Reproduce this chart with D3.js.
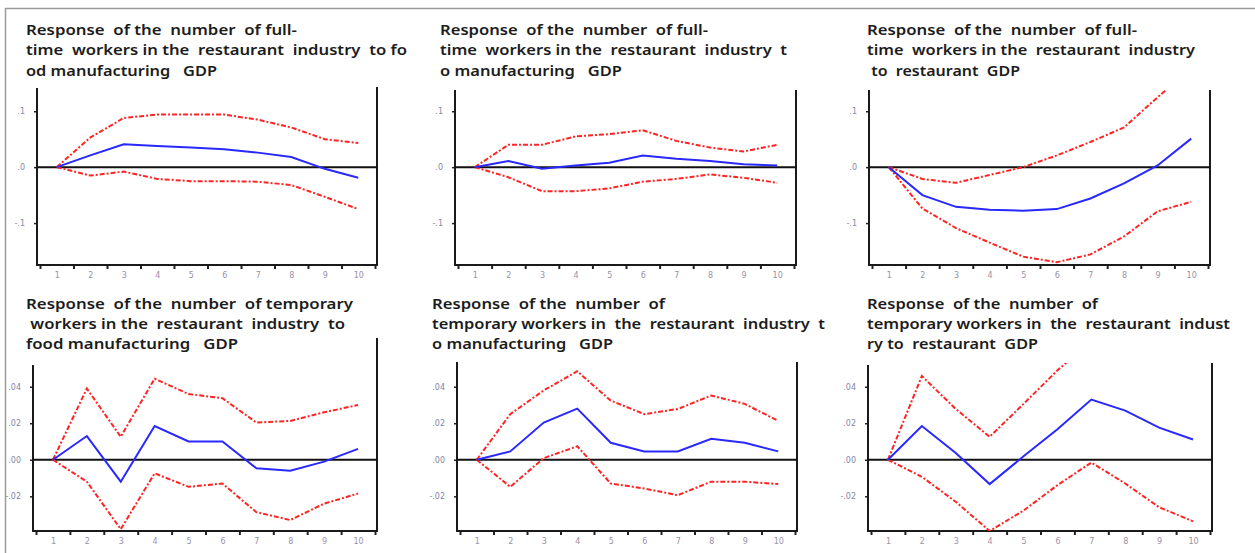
<!DOCTYPE html>
<html>
<head>
<meta charset="utf-8">
<script src="https://cdn.jsdelivr.net/npm/d3@7"></script>
<style>
  body { margin: 0; background: #fff; }
  svg { display: block; }
</style>
</head>
<body>
<svg></svg>
<script>
const width = 1255;
const height = 553;

const periods = d3.range(1, 11);
const xTickLabels = periods.map(String);
const topYTicks = [0.1, 0, -0.1];
const topYLabels = ['.1', '.0', '-.1'];
const bottomYTicks = [0.04, 0.02, 0, -0.02];
const bottomYLabels = ['.04', '.02', '.00', '-.02'];

// full-time workers, response to food manufacturing GDP
const fullFoodResp  = [0, 0.021, 0.041, 0.038, 0.035, 0.032, 0.026, 0.018, -0.003, -0.019];
const fullFoodUpper = [0, 0.053, 0.088, 0.094, 0.094, 0.094, 0.085, 0.071, 0.050, 0.043];
const fullFoodLower = [0, -0.015, -0.008, -0.021, -0.025, -0.025, -0.026, -0.032, -0.053, -0.075];
// full-time workers, response to manufacturing GDP
const fullMfgResp  = [0, 0.011, -0.003, 0.003, 0.008, 0.021, 0.015, 0.011, 0.005, 0.003];
const fullMfgUpper = [0, 0.040, 0.040, 0.055, 0.059, 0.066, 0.047, 0.035, 0.028, 0.040];
const fullMfgLower = [0, -0.018, -0.043, -0.043, -0.038, -0.026, -0.021, -0.013, -0.019, -0.028];
// full-time workers, response to restaurant GDP
const fullRestResp  = [0, -0.050, -0.071, -0.076, -0.078, -0.075, -0.056, -0.029, 0.003, 0.051];
const fullRestUpper = [0, -0.021, -0.028, -0.014, 0.000, 0.021, 0.045, 0.071, 0.125, 0.176];
const fullRestLower = [0, -0.074, -0.109, -0.135, -0.160, -0.170, -0.156, -0.124, -0.079, -0.062];
// temporary workers, response to food manufacturing GDP
const tempFoodResp  = [0, 0.013, -0.012, 0.0185, 0.010, 0.010, -0.0046, -0.006, -0.001, 0.006];
const tempFoodUpper = [0, 0.039, 0.0126, 0.0444, 0.036, 0.0337, 0.0204, 0.0213, 0.026, 0.030];
const tempFoodLower = [0, -0.012, -0.038, -0.0074, -0.0148, -0.013, -0.0287, -0.033, -0.024, -0.0185];
// temporary workers, response to manufacturing GDP
const tempMfgResp  = [0, 0.0046, 0.0204, 0.028, 0.0093, 0.0046, 0.0046, 0.0115, 0.0093, 0.0046];
const tempMfgUpper = [0, 0.025, 0.038, 0.0485, 0.0324, 0.025, 0.0278, 0.0352, 0.0306, 0.0213];
const tempMfgLower = [0, -0.0148, 0.0009, 0.0074, -0.013, -0.0157, -0.0194, -0.012, -0.012, -0.0133];
// temporary workers, response to restaurant GDP
const tempRestResp  = [0, 0.0185, 0.0037, -0.0133, 0.0019, 0.0167, 0.033, 0.0269, 0.0176, 0.0111];
const tempRestUpper = [0, 0.0459, 0.0278, 0.0126, 0.0306, 0.049, 0.065, 0.076, 0.086, 0.095];
const tempRestLower = [0, -0.0093, -0.023, -0.039, -0.0278, -0.0139, -0.0015, -0.013, -0.026, -0.0337];

const titleFullFood = ['Response  of the  number  of full-', 'time  workers in the  restaurant  industry  to fo', 'od manufacturing   GDP'];
const titleFullMfg = ['Response  of the  number  of full-', 'time  workers in the  restaurant  industry  t', 'o manufacturing   GDP'];
const titleFullRest = ['Response  of the  number  of full-', 'time  workers in the  restaurant  industry', ' to  restaurant  GDP'];
const titleTempFood = ['Response  of the  number  of temporary', ' workers in the  restaurant  industry  to', 'food manufacturing   GDP'];
const titleTempMfg = ['Response  of the  number  of', 'temporary workers in  the  restaurant  industry  t', 'o manufacturing   GDP'];
const titleTempRest = ['Response  of the  number  of', 'temporary workers in  the  restaurant  indust', 'ry to  restaurant  GDP'];

const panels = [
    {title: titleFullFood, resp: fullFoodResp, upper: fullFoodUpper, lower: fullFoodLower, row: 0},
    {title: titleFullMfg, resp: fullMfgResp, upper: fullMfgUpper, lower: fullMfgLower, row: 0},
    {title: titleFullRest, resp: fullRestResp, upper: fullRestUpper, lower: fullRestLower, row: 0},
    {title: titleTempFood, resp: tempFoodResp, upper: tempFoodUpper, lower: tempFoodLower, row: 1},
    {title: titleTempMfg, resp: tempMfgResp, upper: tempMfgUpper, lower: tempMfgLower, row: 1},
    {title: titleTempRest, resp: tempRestResp, upper: tempRestUpper, lower: tempRestLower, row: 1}
];

// frame geometry for each panel
const frames = [
    {left: 37, right: 377, top: 88, rightTop: 87, tx: 26, tw: [271, 381, 191]},
    {left: 455, right: 796, top: 90, rightTop: 90, tx: 440, tw: [268, 347, 182]},
    {left: 869, right: 1210, top: 90, rightTop: 90, tx: 867, tw: [270, 328, 153]},
    {left: 33, right: 377, top: 365, rightTop: 338, tx: 26, tw: [327, 319, 212]},
    {left: 457, right: 797, top: 362, rightTop: 362, tx: 432, tw: [233, 393, 181]},
    {left: 868, right: 1212, top: 365, rightTop: 363, tx: 867, tw: [231, 363, 171]}
];

const rows = [
    {domain: [-0.175, 0.138], range: [265, 90], ticks: topYTicks, labels: topYLabels, titleY: [35, 55, 76]},
    {domain: [-0.039, 0.053], range: [531, 363], ticks: bottomYTicks, labels: bottomYLabels, titleY: [309, 329, 349]}
];

const svg = d3.select('svg').attr('width', width).attr('height', height);
svg.append('rect').attr('width', width).attr('height', height).attr('fill', '#fff');

// outer border (top and left only)
svg.append('path')
    .attr('d', `M5.5,${height} V8.5 H${width}`)
    .attr('fill', 'none')
    .attr('stroke', '#9a9a9a')
    .attr('stroke-width', 1.5);

panels.forEach(function(p, i) {
    const f = frames[i];
    const r = rows[p.row];
    const bottom = r.range[0];
    const g = svg.append('g');

    const x = d3.scaleLinear().domain([0.5, 10.5]).range([f.left + 3, f.right - 2]);
    const y = d3.scaleLinear().domain(r.domain).range(r.range);

    // title
    g.append('g').selectAll('text').data(p.title)
        .enter().append('text')
        .attr('x', f.tx)
        .attr('y', function(d, j) { return r.titleY[j]; })
        .attr('textLength', function(d, j) { return f.tw[j]; })
        .attr('lengthAdjust', 'spacingAndGlyphs')
        .style('white-space', 'pre')
        .attr('font-family', '"Noto Sans", "Open Sans", sans-serif')
        .attr('font-size', 15)
        .attr('font-weight', 600)
        .attr('fill', '#1c1c1c')
        .text(function(d) { return d; });

    // y axis ticks
    const yAxis = g.append('g')
        .attr('transform', `translate(${f.left}, 0)`)
        .call(d3.axisLeft(y).tickValues(r.ticks)
            .tickFormat(function(d, j) { return r.labels[j]; })
            .tickSize(3).tickPadding(9));
    yAxis.select('.domain').remove();
    yAxis.selectAll('line').attr('stroke', '#222').attr('stroke-width', 1.5);
    yAxis.selectAll('text').attr('font-family', '"DejaVu Sans", sans-serif')
        .attr('font-size', 8).attr('fill', '#8686a6');

    // x axis: tick marks between periods, labels under periods
    const xTicks = g.append('g')
        .attr('transform', `translate(0, ${bottom})`)
        .call(d3.axisBottom(x).tickValues(d3.range(0.5, 11, 1)).tickFormat('').tickSize(4));
    xTicks.select('.domain').remove();
    xTicks.selectAll('line').attr('stroke', '#222').attr('stroke-width', 2);

    const xLabels = g.append('g')
        .attr('transform', `translate(0, ${bottom})`)
        .call(d3.axisBottom(x).tickValues(periods)
            .tickFormat(function(d, j) { return xTickLabels[j]; })
            .tickSize(0).tickPadding(7));
    xLabels.select('.domain').remove();
    xLabels.selectAll('text').attr('font-family', '"DejaVu Sans", sans-serif')
        .attr('font-size', 8).attr('fill', '#9a90aa');

    // frame lines
    g.append('path')
        .attr('d', `M${f.left},${f.top} V${bottom} H${f.right} V${f.rightTop}`)
        .attr('fill', 'none')
        .attr('stroke', '#1a1a1a')
        .attr('stroke-width', 2);

    // zero line
    g.append('line')
        .attr('x1', f.left).attr('x2', f.right)
        .attr('y1', y(0)).attr('y2', y(0))
        .attr('stroke', '#111')
        .attr('stroke-width', 2);

    const clipId = 'clip' + i;
    svg.append('clipPath').attr('id', clipId)
        .append('rect')
        .attr('x', f.left).attr('y', r.range[1])
        .attr('width', f.right - f.left)
        .attr('height', bottom - r.range[1]);

    const line = d3.line()
        .x(function(d, j) { return x(periods[j]); })
        .y(function(d) { return y(d); });

    const plot = g.append('g').attr('clip-path', `url(#${clipId})`);
    [p.upper, p.lower].forEach(function(band) {
        plot.append('path')
            .datum(band)
            .attr('d', line)
            .attr('fill', 'none')
            .attr('stroke', '#ff2424')
            .attr('stroke-width', 2)
            .attr('stroke-dasharray', '5,2,2,2');
    });
    plot.append('path')
        .datum(p.resp)
        .attr('d', line)
        .attr('fill', 'none')
        .attr('stroke', '#2828ff')
        .attr('stroke-width', 2);
});
</script>
</body>
</html>
